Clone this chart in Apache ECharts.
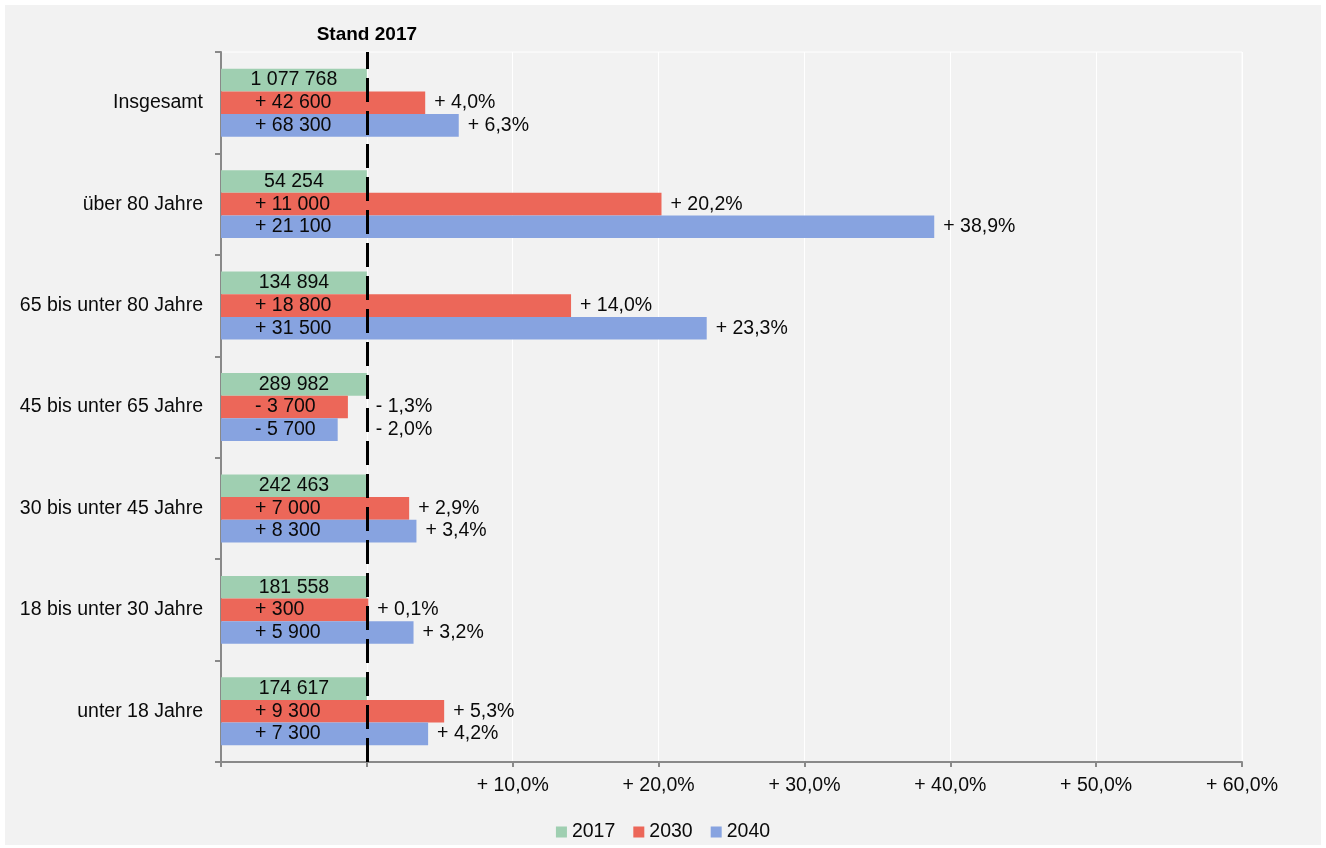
<!DOCTYPE html>
<html><head><meta charset="utf-8">
<script src="https://cdn.jsdelivr.net/npm/echarts@6/dist/echarts.min.js"></script>
<style>
html,body{margin:0;padding:0;background:#fff;}
#frame{position:absolute;left:5px;top:5px;width:1316px;height:840px;background:#f2f2f2;}
#chart{position:absolute;left:0;top:0;width:1326px;height:848px;}
</style>
</head><body><div id="frame"></div><div id="chart"></div>
<script>
// Categories, bottom to top
const categories = ['unter 18 Jahre','18 bis unter 30 Jahre','30 bis unter 45 Jahre','45 bis unter 65 Jahre','65 bis unter 80 Jahre','über 80 Jahre','Insgesamt'];
// Stand 2017 (population) – bars sit at 0 % change
const pop2017 = [174617, 181558, 242463, 289982, 134894, 54254, 1077768];
const change2017 = [0, 0, 0, 0, 0, 0, 0];
// 2030
const abs2030 = [9300, 300, 7000, -3700, 18800, 11000, 42600];
const pct2030 = [5.3, 0.1, 2.9, -1.3, 14.0, 20.2, 4.0];
// 2040
const abs2040 = [7300, 5900, 8300, -5700, 31500, 21100, 68300];
const pct2040 = [4.2, 3.2, 3.4, -2.0, 23.3, 38.9, 6.3];
// Axis
const axisMin = -10, axisMax = 60, axisStep = 10;

const FONT = '"Liberation Sans", Arial, sans-serif';
const FS = 19.5;
const TXT = '#0a0a0a';
const C17 = '#9fcfb1', C30 = '#ec6759', C40 = '#87a3e0';

const shift = v => v - axisMin;
const grp = n => String(Math.abs(n)).replace(/\B(?=(\d{3})+(?!\d))/g, ' ');
const fmtAbs = n => (n < 0 ? '- ' : '+ ') + grp(n);
const fmtPct = p => (p < 0 ? '- ' : '+ ') + Math.abs(p).toFixed(1).replace('.', ',') + '%';

const barCommon = { type: 'bar', barCategoryGap: '33%', barGap: '0%', emphasis: { disabled: true } };
const lblText = { color: TXT, fontFamily: FONT, fontSize: FS };

const chart = echarts.init(document.getElementById('chart'), null, { renderer: 'canvas' });
chart.setOption({
  backgroundColor: 'transparent',
  animation: false,
  textStyle: { fontFamily: FONT },
  grid: { left: 221, right: 84, top: 52, bottom: 86, show: true, borderColor: '#ffffff', borderWidth: 1, backgroundColor: 'transparent' },
  legend: {
    data: ['2017', '2030', '2040'],
    left: 'center', top: 817, icon: 'rect', itemWidth: 11, itemHeight: 11, itemGap: 18,
    textStyle: { color: TXT, fontFamily: FONT, fontSize: FS }
  },
  xAxis: {
    type: 'value', min: shift(axisMin), max: shift(axisMax), interval: axisStep,
    axisLine: { show: true, lineStyle: { color: '#898989', width: 2 } },
    axisTick: { show: true, length: 5, lineStyle: { color: '#898989', width: 2 } },
    splitLine: { show: true, lineStyle: { color: '#ffffff', width: 1 } },
    axisLabel: {
      margin: 14, color: TXT, fontFamily: FONT, fontSize: FS,
      formatter: v => { const r = v + axisMin; return r > 0 ? '+ ' + r.toFixed(1).replace('.', ',') + '%' : ''; }
    }
  },
  yAxis: {
    type: 'category', data: categories,
    axisLine: { show: true, lineStyle: { color: '#898989', width: 2 } },
    axisTick: { show: true, length: 6, lineStyle: { color: '#898989', width: 2 } },
    axisLabel: { margin: 18, color: TXT, fontFamily: FONT, fontSize: FS }
  },
  series: [
    Object.assign({}, barCommon, {
      name: '2017', stack: 's17', itemStyle: { color: C17 },
      data: change2017.map(shift),
      label: Object.assign({ show: true, position: 'inside', formatter: p => grp(pop2017[p.dataIndex]) }, lblText),
      markLine: {
        silent: true, symbol: 'none', animation: false,
        lineStyle: { color: '#000', width: 3, type: [24, 9] },
        label: { show: true, position: 'end', distance: 8, formatter: 'Stand 2017', color: '#000', fontFamily: FONT, fontSize: 19, fontWeight: 'bold' },
        data: [{ xAxis: shift(0) }]
      }
    }),
    Object.assign({}, barCommon, {
      name: '2030', stack: 's30', itemStyle: { color: C30 },
      data: pct2030.map(shift),
      label: Object.assign({ show: true, position: 'insideLeft', offset: [29, 0], formatter: p => fmtAbs(abs2030[p.dataIndex]) }, lblText)
    }),
    Object.assign({}, barCommon, {
      name: '2030 %', stack: 's30', silent: true, itemStyle: { color: 'rgba(0,0,0,0)' },
      data: pct2030.map(v => v < 0 ? -v : 0),
      label: Object.assign({ show: true, position: 'right', distance: 9, formatter: p => fmtPct(pct2030[p.dataIndex]) }, lblText)
    }),
    Object.assign({}, barCommon, {
      name: '2040', stack: 's40', itemStyle: { color: C40 },
      data: pct2040.map(shift),
      label: Object.assign({ show: true, position: 'insideLeft', offset: [29, 0], formatter: p => fmtAbs(abs2040[p.dataIndex]) }, lblText)
    }),
    Object.assign({}, barCommon, {
      name: '2040 %', stack: 's40', silent: true, itemStyle: { color: 'rgba(0,0,0,0)' },
      data: pct2040.map(v => v < 0 ? -v : 0),
      label: Object.assign({ show: true, position: 'right', distance: 9, formatter: p => fmtPct(pct2040[p.dataIndex]) }, lblText)
    })
  ]
});
</script>
</body></html>
